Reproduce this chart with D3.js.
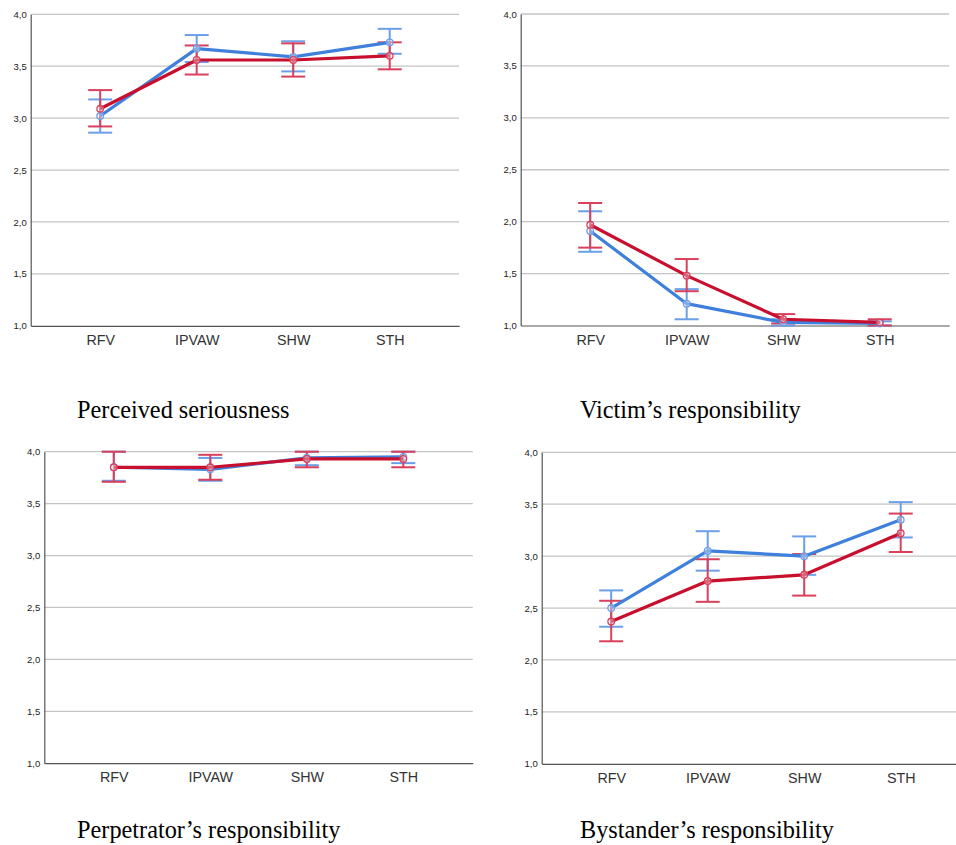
<!DOCTYPE html>
<html>
<head>
<meta charset="utf-8">
<script src="https://cdn.jsdelivr.net/npm/d3@7"></script>
<style>
  html, body { margin: 0; padding: 0; background: #fff; overflow: hidden; }
  svg { display: block; }
</style>
</head>
<body>
<div id="chart"></div>
<script>
// Categories and axis ticks
const categories = ['RFV', 'IPVAW', 'SHW', 'STH'];
const yTicks = [1.0, 1.5, 2.0, 2.5, 3.0, 3.5, 4.0];

// Perceived seriousness
const seriousBlueMean = [3.02, 3.67, 3.59, 3.73];
const seriousBlueLow  = [2.86, 3.54, 3.45, 3.62];
const seriousBlueHigh = [3.18, 3.80, 3.74, 3.86];
const seriousRedMean  = [3.09, 3.56, 3.56, 3.60];
const seriousRedLow   = [2.92, 3.42, 3.40, 3.47];
const seriousRedHigh  = [3.27, 3.70, 3.72, 3.73];

// Victim's responsibility
const victimBlueMean = [1.91, 1.21, 1.03, 1.02];
const victimBlueLow  = [1.71, 1.06, 1.00, 1.00];
const victimBlueHigh = [2.10, 1.35, 1.06, 1.04];
const victimRedMean  = [1.97, 1.48, 1.06, 1.03];
const victimRedLow   = [1.75, 1.33, 1.02, 1.00];
const victimRedHigh  = [2.18, 1.64, 1.11, 1.06];

// Perpetrator's responsibility
const perpBlueMean = [3.85, 3.83, 3.94, 3.95];
const perpBlueLow  = [3.72, 3.72, 3.87, 3.89];
const perpBlueHigh = [4.00, 3.94, 4.00, 4.00];
const perpRedMean  = [3.85, 3.85, 3.93, 3.93];
const perpRedLow   = [3.71, 3.73, 3.85, 3.85];
const perpRedHigh  = [4.00, 3.97, 4.00, 4.00];

// Bystander's responsibility
const byBlueMean = [2.50, 3.05, 3.00, 3.35];
const byBlueLow  = [2.32, 2.86, 2.82, 3.18];
const byBlueHigh = [2.67, 3.24, 3.19, 3.52];
const byRedMean  = [2.37, 2.76, 2.82, 3.22];
const byRedLow   = [2.18, 2.56, 2.62, 3.04];
const byRedHigh  = [2.57, 2.97, 3.02, 3.41];

const panelTitles = ['Perceived seriousness', 'Victim\u2019s responsibility',
                     'Perpetrator\u2019s responsibility', 'Bystander\u2019s responsibility'];

const width = 956, height = 845;
const BLUE = '#3f80dc', BLUE_BAR = '#6b9fe8';
const RED = '#c8102e', RED_BAR = '#d9405c';

const locale = d3.formatLocale({ decimal: ',', thousands: '.', grouping: [3], currency: ['', ''] });
const tickFmt = locale.format('.1f');

const svg = d3.select('#chart').append('svg')
    .attr('width', width)
    .attr('height', height);

// Panel placement (plot area box) and title position
const layout = [
    { left: 30.7, top: 14.3, titleX: 77, titleY: 418 },
    { left: 520.7, top: 14.0, titleX: 580, titleY: 418 },
    { left: 44.3, top: 451.7, titleX: 77, titleY: 838 },
    { left: 541.7, top: 452.3, titleX: 580, titleY: 838 }
];
const plotW = 428.5, plotH = 311.5;

const panelData = [
    [{ mean: seriousBlueMean, low: seriousBlueLow, high: seriousBlueHigh, color: BLUE, bar: BLUE_BAR },
     { mean: seriousRedMean, low: seriousRedLow, high: seriousRedHigh, color: RED, bar: RED_BAR }],
    [{ mean: victimBlueMean, low: victimBlueLow, high: victimBlueHigh, color: BLUE, bar: BLUE_BAR },
     { mean: victimRedMean, low: victimRedLow, high: victimRedHigh, color: RED, bar: RED_BAR }],
    [{ mean: perpBlueMean, low: perpBlueLow, high: perpBlueHigh, color: BLUE, bar: BLUE_BAR },
     { mean: perpRedMean, low: perpRedLow, high: perpRedHigh, color: RED, bar: RED_BAR }],
    [{ mean: byBlueMean, low: byBlueLow, high: byBlueHigh, color: BLUE, bar: BLUE_BAR },
     { mean: byRedMean, low: byRedLow, high: byRedHigh, color: RED, bar: RED_BAR }]
];

function drawPanel(i) {
    const box = layout[i];
    const g = svg.append('g').attr('transform', `translate(${box.left},${box.top})`);

    const x = d3.scalePoint().domain(categories).range([0, plotW]).padding(0.72);
    const y = d3.scaleLinear().domain([1, 4]).range([plotH, 0]);

    // Gridlines
    g.append('g').selectAll('line')
        .data(yTicks.filter(t => t > 1))
        .enter().append('line')
        .attr('x1', 0).attr('x2', plotW)
        .attr('y1', d => y(d)).attr('y2', d => y(d))
        .attr('stroke', '#c4c4c4')
        .attr('stroke-width', 1.3);

    // Y axis
    const yAxis = g.append('g')
        .call(d3.axisLeft(y).tickValues(yTicks).tickFormat(tickFmt).tickSize(0).tickPadding(4));
    yAxis.select('.domain').attr('stroke', '#555').attr('stroke-width', 1.2);
    yAxis.selectAll('text')
        .attr('font-family', 'Arial, "Liberation Sans", sans-serif')
        .attr('font-size', 9.5)
        .attr('fill', '#222');

    // X axis
    const xAxis = g.append('g')
        .attr('transform', `translate(0,${plotH})`)
        .call(d3.axisBottom(x).tickSize(0).tickPadding(9));
    xAxis.select('.domain').attr('stroke', '#555').attr('stroke-width', 1.2);
    xAxis.selectAll('text')
        .attr('font-family', 'Arial, "Liberation Sans", sans-serif')
        .attr('font-size', 14.3)
        .attr('fill', '#333');

    const series = panelData[i];
    const capHalf = 12;

    // Error bars
    series.forEach(s => {
        const eb = g.append('g')
            .attr('stroke', s.bar)
            .attr('stroke-width', 2)
            .attr('fill', 'none');
        categories.forEach((c, k) => {
            const cx = x(c);
            eb.append('line')
                .attr('x1', cx).attr('x2', cx)
                .attr('y1', y(s.low[k])).attr('y2', y(s.high[k]));
            eb.append('line')
                .attr('x1', cx - capHalf).attr('x2', cx + capHalf)
                .attr('y1', y(s.low[k])).attr('y2', y(s.low[k]));
            eb.append('line')
                .attr('x1', cx - capHalf).attr('x2', cx + capHalf)
                .attr('y1', y(s.high[k])).attr('y2', y(s.high[k]));
        });
    });

    // Mean lines and markers
    const line = d3.line()
        .x((d, k) => x(categories[k]))
        .y(d => y(d));

    series.forEach(s => {
        g.append('path')
            .datum(s.mean)
            .attr('d', line)
            .attr('fill', 'none')
            .attr('stroke', s.color)
            .attr('stroke-width', 3.2)
            .attr('stroke-linejoin', 'round');

        g.append('g').selectAll('circle')
            .data(s.mean)
            .enter().append('circle')
            .attr('cx', (d, k) => x(categories[k]))
            .attr('cy', d => y(d))
            .attr('r', 3.3)
            .attr('fill', 'rgba(255,255,255,0.35)')
            .attr('stroke', s.bar)
            .attr('stroke-width', 1.3);
    });

    // Panel title
    svg.append('text')
        .attr('x', box.titleX)
        .attr('y', box.titleY)
        .attr('font-family', '"Liberation Serif", "Times New Roman", serif')
        .attr('font-size', 24.3)
        .attr('fill', '#000')
        .text(panelTitles[i]);
}

for (let i = 0; i < 4; i++) drawPanel(i);
</script>
</body>
</html>
